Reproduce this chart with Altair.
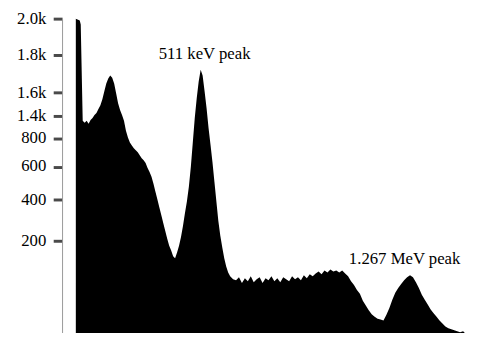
import altair as alt
import pandas as pd

# channel (bin) numbers and counts
channel = [0, 4, 5, 7, 9, 11, 13, 15, 17, 19, 21, 23, 25, 27, 29, 31, 33, 35, 37, 39,
           41, 43, 45, 47, 49, 51, 53, 55, 57, 59, 61, 63, 65, 67, 69, 71, 73, 75, 77, 79,
           81, 83, 85, 87, 89, 91, 93, 95, 97, 99, 101, 103, 105, 107, 109, 111, 113, 115, 117, 119,
           121, 123, 125, 127, 129, 131, 133, 135, 137, 139, 141, 143, 145, 147, 149, 151, 153, 155, 157, 160,
           163, 166, 169, 172, 175, 178, 181, 184, 187, 190, 193, 196, 199, 202, 205, 208, 211, 214, 217, 220,
           223, 226, 229, 232, 235, 238, 241, 244, 247, 250, 253, 256, 259, 262, 265, 268, 271, 274, 277, 280,
           283, 286, 289, 292, 295, 298, 301, 304, 307, 310, 313, 316, 319, 322, 325, 328, 331, 334, 337, 340,
           343, 346, 349, 352, 355, 358, 361, 364, 367, 370, 373, 376, 379, 382, 385, 388, 391, 394, 397, 400]
counts = [2000, 1989, 1967, 1276, 1223, 1276, 1196, 1302, 1355, 1411, 1428, 1461, 1494, 1544, 1607, 1648, 1674, 1690, 1679, 1648,
          1594, 1511, 1453, 1411, 1276, 1011, 826, 772, 751, 730, 716, 702, 681, 660, 646, 625, 591, 568, 538, 497,
          449, 402, 363, 325, 286, 248, 210, 190, 180, 168, 164, 176, 190, 219, 272, 334, 392, 479, 597, 772,
          1355, 1553, 1659, 1721, 1690, 1607, 1469, 1091, 758, 632, 508, 392, 296, 224, 186, 164, 147, 135, 127, 121,
          119, 125, 113, 123, 117, 127, 115, 121, 125, 113, 123, 119, 127, 117, 123, 115, 125, 121, 117, 127,
          121, 125, 119, 129, 123, 131, 127, 133, 137, 131, 139, 135, 141, 137, 139, 135, 139, 133, 127, 117,
          109, 99, 91, 77, 67, 57, 49, 44, 40, 38, 36, 48, 62, 79, 93, 103, 111, 119, 125, 129,
          125, 115, 103, 89, 79, 69, 59, 51, 44, 36, 30, 24, 20, 18, 16, 14, 12, 14, 8, 10]

y_ticks = [200, 400, 600, 800, 1400, 1600, 1800, 2000]
y_tick_labels = ["200", "400", "600", "800", "1.4k", "1.6k", "1.8k", "2.0k"]
y_domain = [0, 200, 400, 600, 800, 1400, 1600, 1800, 2000]

ann_text = ["511 keV peak", "1.267 MeV peak"]
ann_x = [131, 334.5]
ann_y = [1778, 153]

spec = pd.DataFrame({"channel": channel, "counts": counts})
ann = pd.DataFrame({"text": ann_text, "x": ann_x, "y": ann_y})
ticks = pd.DataFrame({"value": y_ticks, "label": y_tick_labels})

SERIF = "Liberation Serif"

x_scale = alt.Scale(domain=[-14, 400], nice=False, zero=False)
y_scale = alt.Scale(type="linear", domain=y_domain,
                    range=[333, 234, 192.3, 158.5, 130, 107.3, 83.3, 44.7, 8],
                    nice=False, zero=False)

y_axis = alt.Axis(values=y_ticks, title=None, grid=False, labels=False,
                  domainColor="#999999", domainWidth=1,
                  tickColor="#4a4a4a", tickWidth=3, tickSize=9)

area = alt.Chart(spec).mark_area(color="#000000", interpolate="linear").encode(
    x=alt.X("channel:Q", scale=x_scale, axis=None),
    y=alt.Y("counts:Q", scale=y_scale, axis=y_axis),
)

text = alt.Chart(ann).mark_text(font=SERIF, fontSize=17, color="#000000",
                                align="center", baseline="alphabetic").encode(
    x=alt.X("x:Q", scale=x_scale, axis=None),
    y=alt.Y("y:Q", scale=y_scale, axis=y_axis),
    text="text:N",
)

tick_labels = alt.Chart(ticks).mark_text(font=SERIF, fontSize=17, color="#000000",
                                         align="right", baseline="middle", dx=-16).encode(
    x=alt.datum(-14, scale=x_scale),
    y=alt.Y("value:Q", scale=y_scale, axis=y_axis),
    text="label:N",
)

chart = alt.layer(area, text, tick_labels).properties(
    width=414, height=325,
    autosize=alt.AutoSizeParams(type="none"),
    padding={"left": 55, "top": 0, "right": 0, "bottom": 0},
).configure_view(stroke=None)

chart.save("out.html", embed_options={"renderer": "svg", "actions": False})
